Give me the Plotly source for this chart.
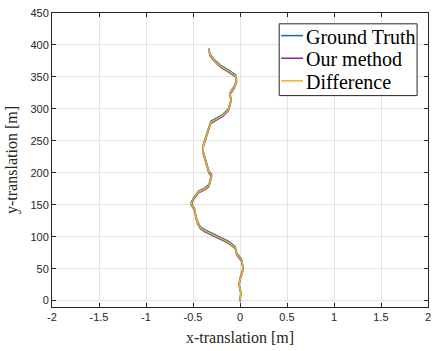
import plotly.graph_objects as go

# Trajectory samples: x positions in metres (shared), y per series in metres
traj_x = [0.000, 0.009, -0.010, 0.003, 0.034, 0.017, -0.035, -0.051, -0.120, -0.261,
          -0.371, -0.421, -0.451, -0.471, -0.481, -0.521, -0.491, -0.441, -0.371,
          -0.331, -0.301, -0.331, -0.351, -0.361, -0.391, -0.391, -0.361, -0.331,
          -0.311, -0.251, -0.181, -0.121, -0.106, -0.096, -0.106, -0.061, -0.036,
          -0.048, -0.121, -0.211, -0.281, -0.321, -0.331]

gt_y = [1.5, 13.5, 26.5, 36.5, 51.5, 64.5, 74.5, 84.5, 92.5, 102.5, 110.5, 115.5,
        123.5, 133.5, 143.5, 153.5, 161.5, 171.5, 176.5, 181.5, 197.5, 202.5, 212.5,
        217.5, 233.5, 243.5, 258.5, 271.5, 280.5, 285.5, 291.5, 300.5, 307.5, 314.5,
        325.5, 335.5, 345.5, 353.5, 360.5, 368.5, 378.5, 386.5, 394.5]

est_y = [-1.5, 10.5, 23.5, 33.5, 48.5, 61.5, 71.5, 81.5, 89.5, 99.5, 107.5, 112.5,
         120.5, 130.5, 140.5, 150.5, 158.5, 168.5, 173.5, 178.5, 194.5, 199.5, 209.5,
         214.5, 230.5, 240.5, 255.5, 268.5, 277.5, 282.5, 288.5, 297.5, 304.5, 311.5,
         322.5, 332.5, 342.5, 350.5, 357.5, 365.5, 375.5, 383.5, 391.5]

diff_y = [0, 12, 25, 35, 50, 63, 73, 83, 91, 101, 109, 114, 122, 132, 142, 152, 160,
          170, 175, 180, 196, 201, 211, 216, 232, 242, 257, 270, 279, 284, 290, 299,
          306, 313, 324, 334, 344, 352, 359, 367, 377, 385, 393]

x_ticks = [-2, -1.5, -1, -0.5, 0, 0.5, 1, 1.5, 2]
y_ticks = [0, 50, 100, 150, 200, 250, 300, 350, 400, 450]

series_names = ["Ground Truth", "Our method", "Difference"]
series_y = [gt_y, est_y, diff_y]
series_colors = ["#0072BD", "#7E2F8E", "#EDB120"]

W, H = 438, 351
ML, MR, MT, MB = 52, 7, 8, 44

fig = go.Figure()
for name, ys, color in zip(series_names, series_y, series_colors):
    fig.add_trace(go.Scatter(x=traj_x, y=ys, mode="lines", name=name,
                             line=dict(color=color, width=1.5), showlegend=False))


def px(xp):
    return (xp - ML) / (W - ML - MR)


def py(yp):
    return (H - MB - yp) / (H - MT - MB)


# Legend box drawn in the upper-right corner of the axes
shapes = [dict(type="rect", xref="paper", yref="paper",
               x0=px(281), x1=px(420), y0=py(92), y1=py(19),
               line=dict(color="#262626", width=1), fillcolor="white", layer="above")]
annotations = []
row_y = [31, 54, 77]
for name, color, ry in zip(series_names, series_colors, row_y):
    shapes.append(dict(type="line", xref="paper", yref="paper",
                       x0=px(283), x1=px(305), y0=py(ry), y1=py(ry),
                       line=dict(color=color, width=1.5), layer="above"))
    annotations.append(dict(text=name, xref="paper", yref="paper",
                            x=px(306), y=py(ry + 1), xanchor="left", yanchor="middle",
                            showarrow=False,
                            font=dict(family="Liberation Serif, Times New Roman",
                                      size=20, color="black")))

axis_common = dict(
    showgrid=True, gridcolor="#e3e3e3", gridwidth=1,
    showline=True, linecolor="#262626", linewidth=1, mirror="ticks",
    ticks="inside", ticklen=4, tickcolor="#262626",
    tickfont=dict(family="Liberation Sans, Arial", size=11, color="#262626"),
    zeroline=False,
)
title_font = dict(family="Liberation Serif, Times New Roman", size=16, color="#262626")

fig.update_layout(
    width=W, height=H,
    margin=dict(l=ML, r=MR, t=MT, b=MB),
    paper_bgcolor="white", plot_bgcolor="white",
    xaxis=dict(range=[-2, 2], tickvals=x_ticks,
               ticktext=[f"{v:g}" for v in x_ticks],
               title=dict(text="x-translation [m]", standoff=9, font=title_font),
               **axis_common),
    yaxis=dict(range=[-10, 450], tickvals=y_ticks,
               title=dict(text="y-translation [m]", standoff=8, font=title_font),
               **axis_common),
    shapes=shapes,
    annotations=annotations,
    showlegend=False,
)

fig.write_html("out.html")
